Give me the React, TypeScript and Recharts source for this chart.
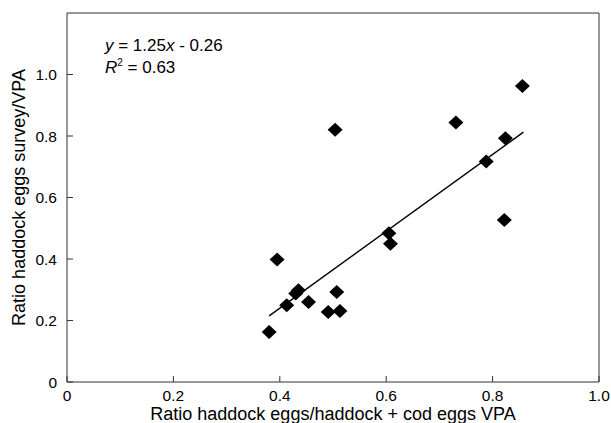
import {
  ScatterChart,
  Scatter,
  XAxis,
  YAxis,
  ReferenceLine,
  Label,
  Customized
} from "recharts";

// ratio haddock eggs / (haddock + cod eggs), VPA
const ratioVpa = [
  0.856, 0.504, 0.731, 0.824, 0.788, 0.822, 0.605, 0.608, 0.395,
  0.435, 0.430, 0.413, 0.454, 0.507, 0.491, 0.513, 0.380
];
// ratio haddock eggs survey / VPA
const ratioSurvey = [
  0.963, 0.820, 0.844, 0.793, 0.717, 0.527, 0.484, 0.450, 0.398,
  0.298, 0.288, 0.250, 0.260, 0.293, 0.228, 0.231, 0.163
];

const xTicks = [0, 0.2, 0.4, 0.6, 0.8, 1.0];
const yTicks = [0, 0.2, 0.4, 0.6, 0.8, 1.0];

// regression y = 1.25x - 0.26 over the range of the data
const fitSlope = 1.25;
const fitIntercept = -0.26;
const fitRange = [0.38, 0.858];

const points = ratioVpa.map((x, i) => ({ x, y: ratioSurvey[i] }));
const fitSegment = fitRange.map((x) => ({ x, y: fitSlope * x + fitIntercept }));

const FONT = "'Liberation Sans', Arial, sans-serif";
const AXIS = "#333";

const fmt = (v: number) => (v === 0 ? "0" : v.toFixed(1));

function Diamond(props: any) {
  const { cx, cy } = props;
  const w = 7.5;
  const h = 7;
  return (
    <path
      d={`M${cx},${cy - h}L${cx + w},${cy}L${cx},${cy + h}L${cx - w},${cy}Z`}
      fill="#000"
    />
  );
}

function Equation() {
  return (
    <g fontFamily={FONT} fontSize={17} fill="#000">
      <text x={105} y={51}>
        <tspan fontStyle="italic">y</tspan> = 1.25<tspan fontStyle="italic">x</tspan> - 0.26
      </text>
      <text x={105} y={73}>
        <tspan fontStyle="italic">R</tspan>
        <tspan fontSize={10} dy={-7}>2</tspan>
        <tspan dy={7}> = 0.63</tspan>
      </text>
    </g>
  );
}

export default function App() {
  return (
    <div style={{ position: "absolute", left: 0, top: 0, background: "#fff" }}>
      <ScatterChart
        width={611}
        height={423}
        margin={{ top: 13, right: 12, bottom: 0, left: 0 }}
      >
        <XAxis
          type="number"
          dataKey="x"
          domain={[0, 1]}
          ticks={xTicks}
          tickFormatter={fmt}
          height={41}
          tickSize={-6}
          tickMargin={14}
          axisLine={{ stroke: AXIS }}
          tickLine={{ stroke: AXIS }}
          tick={{ fill: "#000", fontSize: 15.5, fontFamily: FONT }}
        >
          <Label
            value="Ratio haddock eggs/haddock + cod eggs VPA"
            position="insideBottom"
            offset={3.5}
            style={{ fill: "#000", fontSize: 18, fontFamily: FONT }}
          />
        </XAxis>
        <YAxis
          type="number"
          dataKey="y"
          domain={[0, 1.2]}
          ticks={yTicks}
          tickFormatter={fmt}
          width={67}
          tickSize={-6}
          tickMargin={16}
          axisLine={{ stroke: AXIS }}
          tickLine={{ stroke: AXIS }}
          tick={{ fill: "#000", fontSize: 15.5, fontFamily: FONT }}
        >
          <Label
            value="Ratio haddock eggs survey/VPA"
            angle={-90}
            position="insideLeft"
            offset={19}
            style={{ fill: "#000", fontSize: 18, fontFamily: FONT, textAnchor: "middle" }}
          />
        </YAxis>
        <ReferenceLine y={1.2} stroke={AXIS} />
        <ReferenceLine x={1} stroke={AXIS} />
        <ReferenceLine segment={fitSegment} stroke="#000" strokeWidth={1.4} />
        <Scatter data={points} shape={Diamond} isAnimationActive={false} />
        <Customized component={Equation} />
      </ScatterChart>
    </div>
  );
}
